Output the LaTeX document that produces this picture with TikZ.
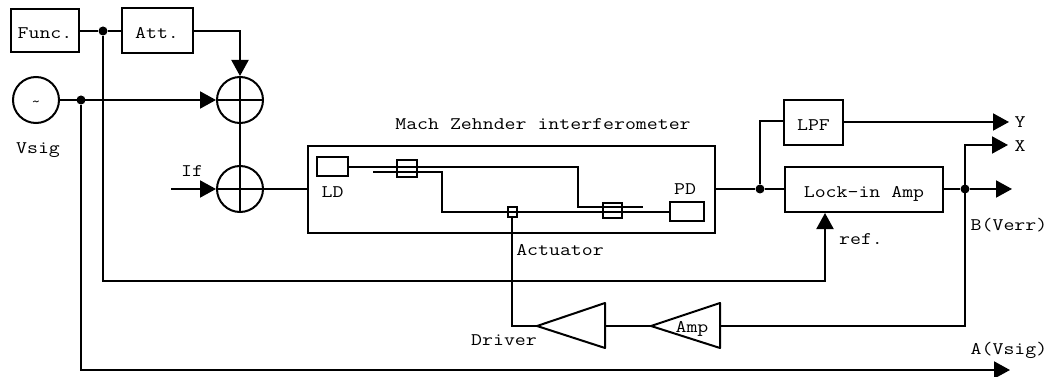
\documentclass[tikz,border=0pt]{standalone}
\usepackage{fontspec}
\setmonofont[FakeStretch=1.2]{Latin Modern Mono}
\usetikzlibrary{arrows.meta}
\tikzset{
 x=1pt,y=-1pt,
 wire/.style={line width=2pt,line join=miter},
 arr/.style={wire,-{Triangle[length=16pt,width=17pt]}},
 boxn/.style={draw,line width=2pt,inner sep=0pt,rectangle},
 sumn/.style={draw,circle,line width=2pt,minimum size=46pt,inner sep=0pt},
 dotn/.style={fill,circle,minimum size=9pt,inner sep=0pt},
 lbl/.style={anchor=base,inner sep=0pt,font=\fontsize{17.7}{20}\selectfont\ttfamily},
}
\begin{document}
\begin{tikzpicture}
\useasboundingbox (0,0) rectangle (1050,377);
% blocks
\node[boxn,minimum width=68pt,minimum height=43pt] (func) at (45,30.5) {};
\node[boxn,minimum width=71pt,minimum height=45pt] (att) at (157.5,30.5) {};
\node[sumn] (src) at (36,100) {};
\node[sumn] (s1) at (240,100) {};
\node[sumn] (s2) at (240,189) {};
\node[boxn,minimum width=407pt,minimum height=87pt] (mz) at (511.5,189.5) {};
\node[boxn,minimum width=31pt,minimum height=19pt] (ld) at (332.5,166.5) {};
\node[boxn,minimum width=34pt,minimum height=19pt] (pd) at (687,211.5) {};
\node[boxn,minimum width=20pt,minimum height=17pt] (c1) at (407,168.5) {};
\node[boxn,minimum width=19pt,minimum height=15pt] (c2) at (612.5,210.5) {};
\node[boxn,minimum width=9pt,minimum height=10pt] (act) at (512,212) {};
\node[boxn,minimum width=59pt,minimum height=45pt] (lpf) at (813.5,122.5) {};
\node[boxn,minimum width=158pt,minimum height=45pt] (lia) at (864,189.5) {};
\coordinate (drvtip) at (537,326);
\coordinate (amptip) at (651,326);
\draw[line width=2pt,line join=round] (drvtip) -- (605,303) -- (605,348) -- cycle;
\draw[line width=2pt,line join=round] (amptip) -- (720,303) -- (720,348) -- cycle;
\coordinate (drvbase) at (605,326);
\coordinate (ampbase) at (720,326);
% junctions
\node[dotn] (j1) at (103,31) {};
\node[dotn] (j2) at (81,100) {};
\node[dotn] (j3) at (760,189) {};
\node[dotn] (j4) at (965,189) {};
% free ends
\coordinate (ifin) at (171,189);
\coordinate (aend) at (1010,370);
\coordinate (yend) at (1009,122);
\coordinate (xend) at (1008,145);
\coordinate (bend) at (1012,189);
% sum crosses
\draw[wire] (s1.north) -- (s1.south) (s1.west) -- (s1.east);
\draw[wire] (s2.north) -- (s2.south) (s2.west) -- (s2.east);
\draw[wire] (s1.south) -- (s2.north);
% top left
\draw[wire] (func.east |- j1) -- (j1) -- (att.west |- j1);
\draw[arr] (att.east |- j1) -| (s1.north);
\draw[arr] (src.east) -- (s1.west);
\draw[arr] (ifin) -- (s2.west);
\draw[wire] (s2.east) -- (mz.west |- s2.east);
\draw[arr] (j1) |- (825,281) -- (lia.south -| 825,0);
\draw[arr] (j2) |- (aend);
% interferometer inside
\draw[wire] (ld.east |- 0,167) -- (578,167) -- (578,207) -- (643,207);
\draw[wire] (373,172) -- (442,172) -- (442,212) -- (pd.west |- act.east);
\draw[wire] (act.south) -- (512,326) -- (drvtip);
% right side
\draw[wire] (mz.east |- j3) -- (j3) -- (lia.west |- j3);
\draw[wire] (j3) |- (lpf.west |- 0,121);
\draw[arr] (lpf.east |- yend) -- (yend);
\draw[arr] (lia.east |- j4) -- (j4) -- (bend);
\draw[arr] (ampbase) -- (965,326) -- (965,145) -- (xend);
\draw[wire] (amptip) -- (drvbase);
% labels
\node[lbl] (tfunc) at (45,39) {Func.};
\node[lbl] (tatt) at (157,39) {Att.};
\node[lbl,font=\fontsize{15}{16}\selectfont\ttfamily] (ttil) at (36,107) {\char`\~};
\node[lbl] (tvsig) at (38,154) {Vsig};
\node[lbl] (tif) at (192,177) {If};
\node[lbl] (tmach) at (543,130) {Mach Zehnder interferometer};
\node[lbl] (tld) at (332.5,197) {LD};
\node[lbl] (tpd) at (685,195) {PD};
\node[lbl] (tact) at (560,255) {Actuator};
\node[lbl] (tlpf) at (813.5,131) {LPF};
\node[lbl] (tlia) at (864,197) {Lock-in Amp};
\node[lbl] (ty) at (1020,128) {Y};
\node[lbl] (tx) at (1020,152) {X};
\node[lbl] (tb) at (1009,230) {B(Verr)};
\node[lbl] (tref) at (861,244) {ref.};
\node[lbl] (tdrv) at (504,345) {Driver};
\node[lbl] (tamp) at (692,332) {Amp};
\node[lbl] (ta) at (1009,354) {A(Vsig)};
\end{tikzpicture}
\end{document}
